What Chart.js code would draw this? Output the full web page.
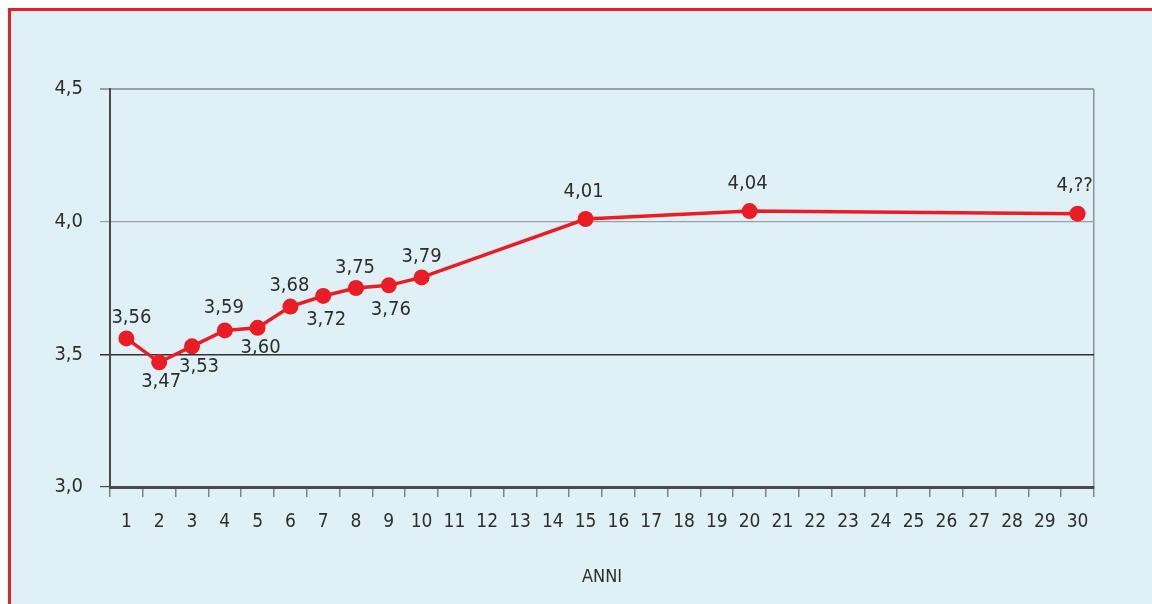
<!DOCTYPE html>
<html><head><meta charset="utf-8">
<script src="https://cdn.jsdelivr.net/npm/chart.js@4"></script>
<style>
html,body{margin:0;padding:0;background:#fff;overflow:hidden;}
#frame{position:absolute;left:8px;top:8px;width:1141px;height:593px;border-left:3px solid #ee1d25;border-top:3px solid #ee1d25;background:#e0f0f7;}
canvas{display:block;}
</style></head><body>
<div id="frame"><canvas id="c" width="1141" height="593" style="width:1141px;height:593px"></canvas></div>
<script>
// ---- data ----
const years = ['1','2','3','4','5','6','7','8','9','10','11','12','13','14','15','16','17','18','19','20','21','22','23','24','25','26','27','28','29','30'];
const measuredYears = ['1','2','3','4','5','6','7','8','9','10','15','20','30'];
const values = [3.56, 3.47, 3.53, 3.59, 3.60, 3.68, 3.72, 3.75, 3.76, 3.79, 4.01, 4.04, 4.03];
const valueLabels = ['3,56','3,47','3,53','3,59','3,60','3,68','3,72','3,75','3,76','3,79','4,01','4,04','4,??'];
const yTicks = [3.0, 3.5, 4.0, 4.5];
const xTitle = 'ANNI';

// ---- styling ----
const FONT = "'DejaVu Sans Condensed','Liberation Sans Narrow',sans-serif";
const RED = '#ec1c24';
const TEXT = '#2e2e2e';
// label offsets (dx, dy) relative to each point
const labelOffsets = [[5,-21],[2,20],[7,20],[-1,-23],[3,20],[-1,-21],[3,24],[-1,-20],[2,24],[0,-21],[-2,-27],[-2,-27],[-3,-28]];

const dataLabelPlugin = {
  id: 'dataLabels',
  afterDatasetsDraw(chart) {
    const meta = chart.getDatasetMeta(0);
    const ctx = chart.ctx;
    ctx.save();
    ctx.font = '20px ' + FONT;
    ctx.fillStyle = TEXT;
    ctx.textAlign = 'center';
    ctx.textBaseline = 'middle';
    meta.data.forEach((el, i) => {
      const o = labelOffsets[i] || [0,-20];
      ctx.fillText(valueLabels[i], el.x + o[0], el.y + o[1]);
    });
    ctx.restore();
  }
};

new Chart(document.getElementById('c'), {
  type: 'line',
  data: {
    labels: years,
    datasets: [{
      data: measuredYears.map((y, i) => ({x: y, y: values[i]})),
      borderColor: RED,
      backgroundColor: RED,
      borderWidth: 3.5,
      pointRadius: 8,
      pointHoverRadius: 8,
      pointBackgroundColor: RED,
      pointBorderWidth: 0,
      tension: 0,
      spanGaps: true,
      clip: false
    }]
  },
  options: {
    responsive: false,
    devicePixelRatio: 1,
    animation: false,
    events: [],
    layout: { padding: { left: 0, right: 58, top: 78, bottom: 0 } },
    plugins: { legend: { display: false }, tooltip: { enabled: false } },
    scales: {
      x: {
        type: 'category',
        offset: true,
        grid: {
          offset: true,
          drawOnChartArea: true,
          color: ctx => ctx.type === 'scale' ? '#8b9197' : 'transparent',
          lineWidth: 1.5,
          tickColor: '#7d848a',
          tickLength: 10,
          tickWidth: 1.5
        },
        border: { color: '#4a4a4a', width: 3 },
        ticks: { autoSkip: false, maxRotation: 0, minRotation: 0, padding: 14, color: TEXT, font: { family: FONT, size: 19 } },
        title: { display: true, text: xTitle, color: TEXT, font: { family: FONT, size: 18 }, padding: { top: 0, bottom: 16 } },
        afterFit: s => { s.height = 117; }
      },
      y: {
        min: 3, max: 4.5,
        afterBuildTicks: s => { s.ticks = yTicks.map(v => ({ value: v })); },
        ticks: {
          callback: v => Number(v).toFixed(1).replace('.', ','),
          padding: 17, color: TEXT, font: { family: FONT, size: 20 }
        },
        grid: {
          color: ctx => {
            const v = ctx.tick ? ctx.tick.value : null;
            if (v === 3.5) return '#2f3235';
            if (v === 3.0) return '#4a4a4a';
            return '#9aa0a5';
          },
          lineWidth: ctx => {
            const v = ctx.tick ? ctx.tick.value : null;
            if (v === 4.5) return 2;
            if (v === 3.5) return 1.5;
            return 1.2;
          },
          tickLength: 10
        },
        border: { color: '#4a4a4a', width: 2 },
        afterFit: s => { s.width = 99; }
      }
    }
  },
  plugins: [dataLabelPlugin]
});
</script>
</body></html>
